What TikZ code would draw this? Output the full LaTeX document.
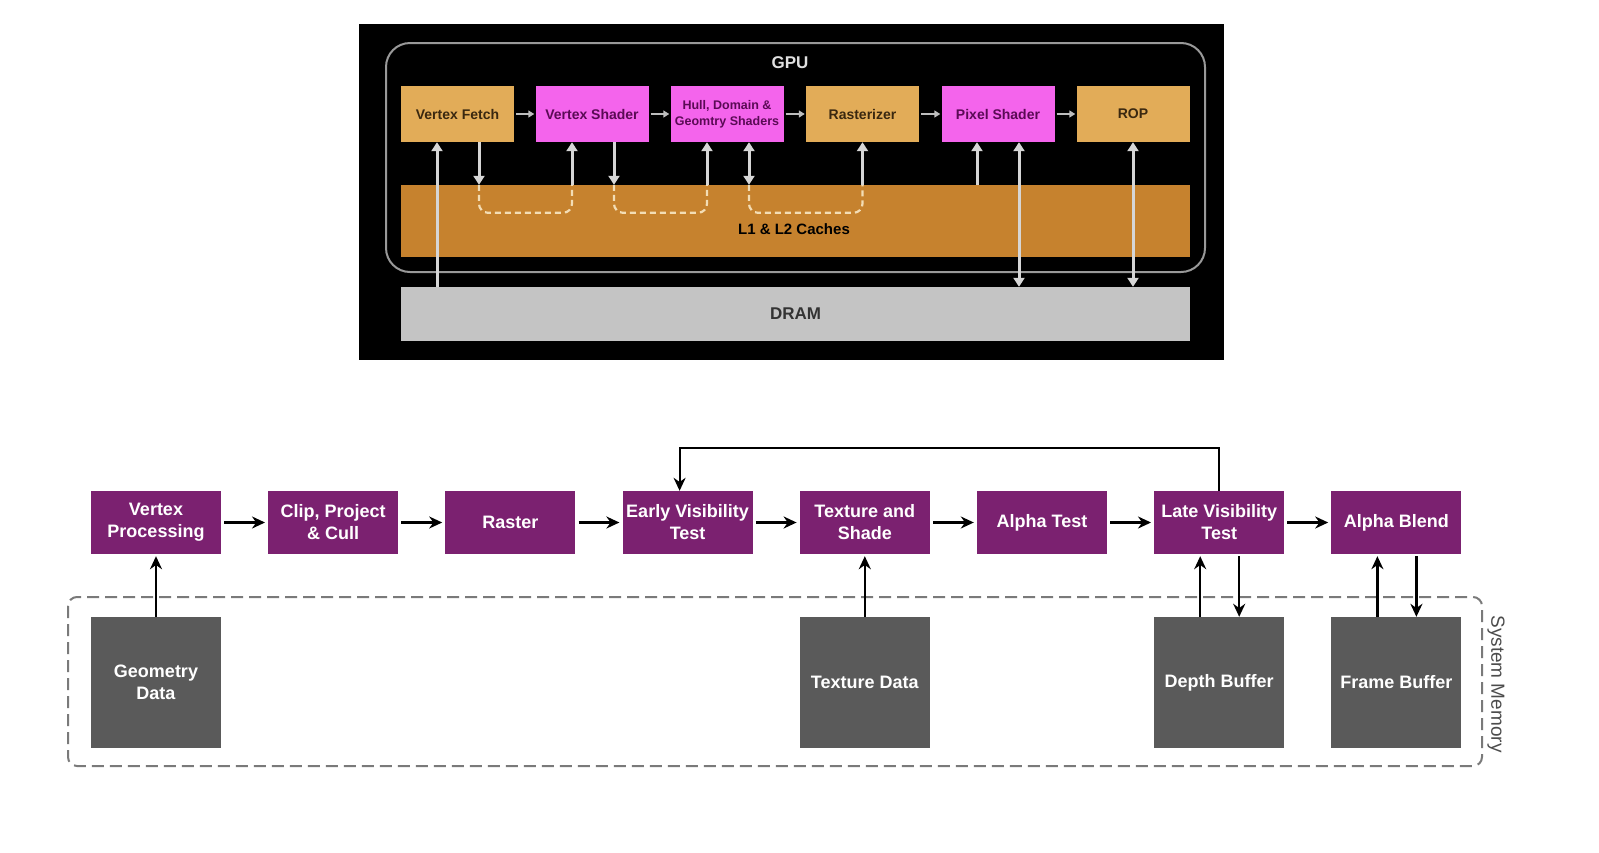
\documentclass[tikz,border=0pt]{standalone}
\usepackage{fontspec}
\setmainfont{Liberation Sans}
\usetikzlibrary{arrows.meta,calc}
\definecolor{tanc}{HTML}{E2AC58}
\definecolor{magc}{HTML}{F464EC}
\definecolor{cachec}{HTML}{C6822E}
\definecolor{dramc}{HTML}{C4C4C4}
\definecolor{tantext}{HTML}{3A2810}
\definecolor{magtext}{HTML}{5A0A55}
\definecolor{lgray}{HTML}{D6D6D6}
\definecolor{mgray}{HTML}{BDBDBD}
\definecolor{creamc}{HTML}{F3DDB5}
\definecolor{purp}{HTML}{7B2170}
\definecolor{dgray}{HTML}{5A5A5A}
\definecolor{memgray}{HTML}{7A7A7A}
\tikzset{
  topbox/.style={draw=none, minimum width=113pt, minimum height=56pt, inner sep=0pt, align=center, font=\bfseries\fontsize{14}{16}\selectfont},
  tanbox/.style={topbox, fill=tanc, text=tantext},
  magbox/.style={topbox, fill=magc, text=magtext},
  garrow/.style={draw=lgray, line width=3pt, -{Triangle[length=9pt,width=11pt]}},
  gdouble/.style={draw=lgray, line width=3pt, {Triangle[length=9pt,width=11pt]}-{Triangle[length=9pt,width=11pt]}},
  hsmall/.style={draw=mgray, line width=1.6pt, -{Triangle[length=6pt,width=7pt]}, shorten <=2pt, shorten >=1pt},
  dashpath/.style={draw=creamc, line width=2.2pt, dash pattern=on 6pt off 4pt, rounded corners=9pt},
  pbox/.style={fill=purp, draw=none, minimum width=130pt, minimum height=63pt, inner sep=0pt, text=white, align=center, font=\bfseries\fontsize{18}{22}\selectfont},
  gbox/.style={fill=dgray, draw=none, minimum width=130pt, minimum height=131pt, inner sep=0pt, text=white, align=center, font=\bfseries\fontsize{18}{22}\selectfont},
  barrow/.style={draw=black, line width=2.4pt, -{Stealth[length=13pt,width=12pt]}},
}
\begin{document}
\begin{tikzpicture}[x=1pt,y=-1pt]
\useasboundingbox[fill=white] (0,0) rectangle (1599,852);
% ---------- top GPU diagram ----------
\fill[black] (359,24) rectangle (1224,360);
\draw[draw=gray!80, line width=2pt, rounded corners=24pt] (386,43) rectangle (1205,272);
\node[text=white!88!black, font=\bfseries\fontsize{17}{20}\selectfont] (gpu) at (790,63) {GPU};
\node[fill=cachec, minimum width=789pt, minimum height=72pt, inner sep=0pt] (cache) at (795.5,221) {};
\node[font=\bfseries\fontsize{15}{18}\selectfont, text=black] (cachelbl) at (794,229) {L1 \& L2 Caches};
\node[fill=dramc, minimum width=789pt, minimum height=54pt, inner sep=0pt, font=\bfseries\fontsize{17}{20}\selectfont, text=black!80] (dram) at (795.5,314) {DRAM};

\node[tanbox] (VF) at (457.5,114) {Vertex Fetch};
\node[magbox] (VS) at (592,114) {Vertex Shader};
\node[magbox, font=\bfseries\fontsize{12.5}{16}\selectfont] (HS) at (727,114) {Hull, Domain \&\\Geomtry Shaders};
\node[tanbox] (RA) at (862.5,114) {Rasterizer};
\node[magbox] (PS) at (998,114) {Pixel Shader};
\node[tanbox] (ROP) at (1133,114) {ROP};

\draw[hsmall] (VF.east) -- (VS.west);
\draw[hsmall] (VS.east) -- (HS.west);
\draw[hsmall] (HS.east) -- (RA.west);
\draw[hsmall] (RA.east) -- (PS.west);
\draw[hsmall] (PS.east) -- (ROP.west);

\coordinate (vfA) at ([xshift=-20.5pt]VF.south);
\coordinate (vfB) at ([xshift=21.5pt]VF.south);
\coordinate (vsA) at ([xshift=-20pt]VS.south);
\coordinate (vsB) at ([xshift=22pt]VS.south);
\coordinate (hsA) at ([xshift=-20pt]HS.south);
\coordinate (hsB) at ([xshift=22pt]HS.south);
\coordinate (raA) at (RA.south);
\coordinate (psA) at ([xshift=-21pt]PS.south);
\coordinate (psB) at ([xshift=21pt]PS.south);
\coordinate (ropA) at (ROP.south);

\draw[dashpath] (vfB |- cache.north) -- ++(0,28) -| (vsA |- cache.north);
\draw[dashpath] (vsB |- cache.north) -- ++(0,28) -| (hsA |- cache.north);
\draw[dashpath] (hsB |- cache.north) -- ++(0,28) -| (raA |- cache.north);

\draw[garrow] (vfA |- dram.north) -- (vfA);
\draw[garrow] (vfB) -- (vfB |- cache.north);
\draw[garrow] (vsA |- cache.north) -- (vsA);
\draw[garrow] (vsB) -- (vsB |- cache.north);
\draw[garrow] (hsA |- cache.north) -- (hsA);
\draw[gdouble] (hsB) -- (hsB |- cache.north);
\draw[garrow] (raA |- cache.north) -- (raA);
\draw[garrow] (psA |- cache.north) -- (psA);
\draw[gdouble] (psB |- dram.north) -- (psB);
\draw[gdouble] (ropA |- dram.north) -- (ropA);

% ---------- bottom pipeline ----------
\draw[draw=memgray, line width=2pt, dash pattern=on 12pt off 6pt, rounded corners=9pt] (68,597) rectangle (1482,766);
\node[rotate=-90, text=black!70, font=\fontsize{19}{22}\selectfont] (sysmem) at (1496,684) {System Memory};

\node[pbox] (p1) at (156,522.5) {Vertex\\Processing};
\node[pbox] (p2) at (333.2,522.5) {Clip, Project\\\& Cull};
\node[pbox] (p3) at (510.4,522.5) {Raster};
\node[pbox] (p4) at (687.6,522.5) {Early Visibility\\Test};
\node[pbox] (p5) at (864.8,522.5) {Texture and\\Shade};
\node[pbox] (p6) at (1042,522.5) {Alpha Test};
\node[pbox] (p7) at (1219.2,522.5) {Late Visibility\\Test};
\node[pbox] (p8) at (1396.4,522.5) {Alpha Blend};

\node[gbox] (g1) at (156,682.5) {Geometry\\Data};
\node[gbox] (g5) at (864.8,682.5) {Texture Data};
\node[gbox] (g7) at (1219.2,682.5) {Depth Buffer};
\node[gbox] (g8) at (1396.4,682.5) {Frame Buffer};

\foreach \a/\b in {p1/p2,p2/p3,p3/p4,p4/p5,p5/p6,p6/p7,p7/p8}
  \draw[barrow, shorten <=3pt, shorten >=3pt] (\a.east) -- (\b.west);

\draw[barrow, shorten >=2pt] (g1.north) -- (p1.south);
\draw[barrow, shorten >=2pt] (g5.north) -- (p5.south);

\coordinate (dUp) at ([xshift=-19pt]g7.north);
\coordinate (dDn) at ([xshift=20pt]p7.south);
\coordinate (fUp) at ([xshift=-19pt]g8.north);
\coordinate (fDn) at ([xshift=20pt]p8.south);
\draw[barrow, shorten >=2pt] (dUp) -- (dUp |- p7.south);
\draw[barrow, shorten <=2pt] (dDn) -- (dDn |- g7.north);
\draw[barrow, shorten >=2pt] (fUp) -- (fUp |- p8.south);
\draw[barrow, shorten <=2pt] (fDn) -- (fDn |- g8.north);

\coordinate (fbA) at ([xshift=-8pt]p4.north);
\draw[draw=black, line width=2pt, -{Stealth[length=13pt,width=12pt]}] (p7.north) -- ++(0,-43) -| (fbA);
\end{tikzpicture}
\end{document}
